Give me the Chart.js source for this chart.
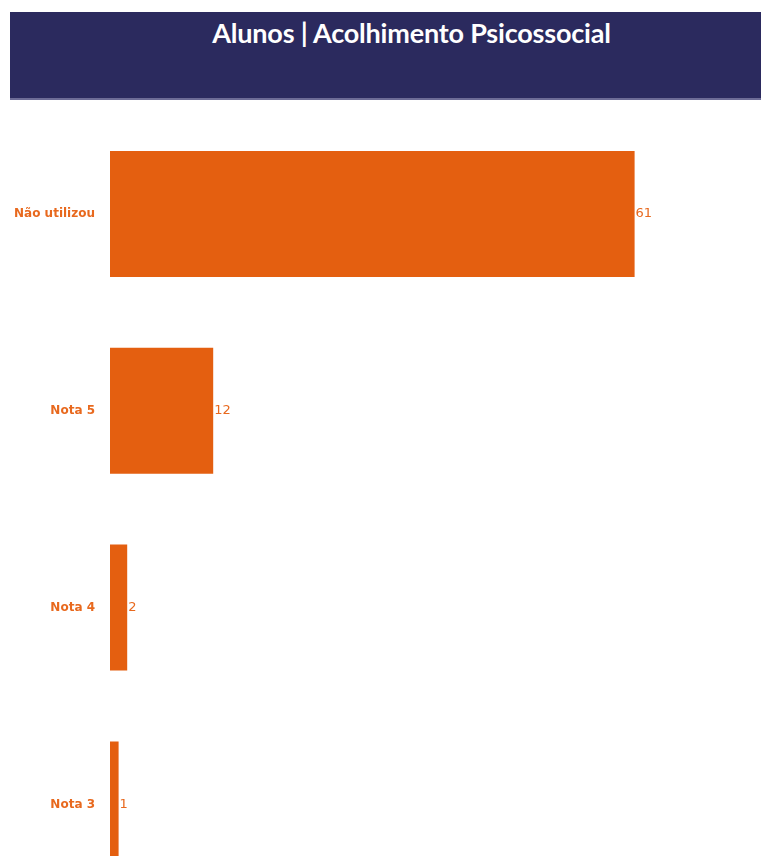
<!DOCTYPE html>
<html>
<head>
  <title>Alunos | Acolhimento Psicossocial</title>
  <script src="https://cdn.jsdelivr.net/npm/chart.js"></script>
  <style>
    html, body { margin: 0; padding: 0; background: #fff; overflow: hidden; width: 761px; height: 856px; }
    #header {
      position: absolute; left: 10px; top: 12px; width: 751px; height: 86px;
      background: #2b2a5e; border-bottom: 2px solid #6d6c96;
    }
    #header h1 {
      margin: 0; position: absolute; top: 4px; left: 0; width: 100%;
      padding-left: 52px; box-sizing: border-box;
      text-align: center; color: #fff; font-family: Lato, sans-serif;
      font-weight: 700; font-size: 27px; letter-spacing: -0.2px;
    }
    #wrap { position: absolute; left: 0; top: 100px; width: 761px; height: 817px; }
  </style>
</head>
<body>
  <div id="header"><h1>Alunos | Acolhimento Psicossocial</h1></div>
  <div id="wrap"><canvas id="chart"></canvas></div>

  <script>
    const categories = ['Não utilizou', 'Nota 5', 'Nota 4', 'Nota 3'];
    const values = [61, 12, 2, 1];

    const orange = '#e45f10';

    // draws the number just past the end of each bar
    const valueLabels = {
      id: 'valueLabels',
      afterDatasetsDraw(chart) {
        const ctx = chart.ctx;
        const meta = chart.getDatasetMeta(0);
        ctx.save();
        ctx.fillStyle = '#e8691e';
        ctx.font = '13px "DejaVu Sans", sans-serif';
        ctx.textBaseline = 'middle';
        ctx.textAlign = 'left';
        meta.data.forEach((bar, i) => {
          ctx.fillText(String(values[i]), bar.x + 1, bar.y);
        });
        ctx.restore();
      }
    };

    new Chart(document.getElementById('chart').getContext('2d'), {
      type: 'bar',
      data: {
        labels: categories,
        datasets: [{
          data: values,
          backgroundColor: orange,
          borderWidth: 0,
          categoryPercentage: 0.8,
          barPercentage: 0.8
        }]
      },
      options: {
        indexAxis: 'y',
        responsive: true,
        maintainAspectRatio: false,
        animation: false,
        layout: { padding: { top: 15.5, right: 49, bottom: 7, left: 0 } },
        plugins: {
          legend: { display: false },
          tooltip: { enabled: false }
        },
        scales: {
          x: { display: false, min: 0, max: 70 },
          y: {
            grid: { display: false },
            border: { display: false },
            ticks: {
              color: '#e8691e',
              padding: 7,
              font: { family: 'DejaVu Sans', size: 12, weight: 'bold' }
            },
            afterFit(scale) { scale.width = 110; }
          }
        }
      },
      plugins: [valueLabels]
    });
  </script>
</body>
</html>
